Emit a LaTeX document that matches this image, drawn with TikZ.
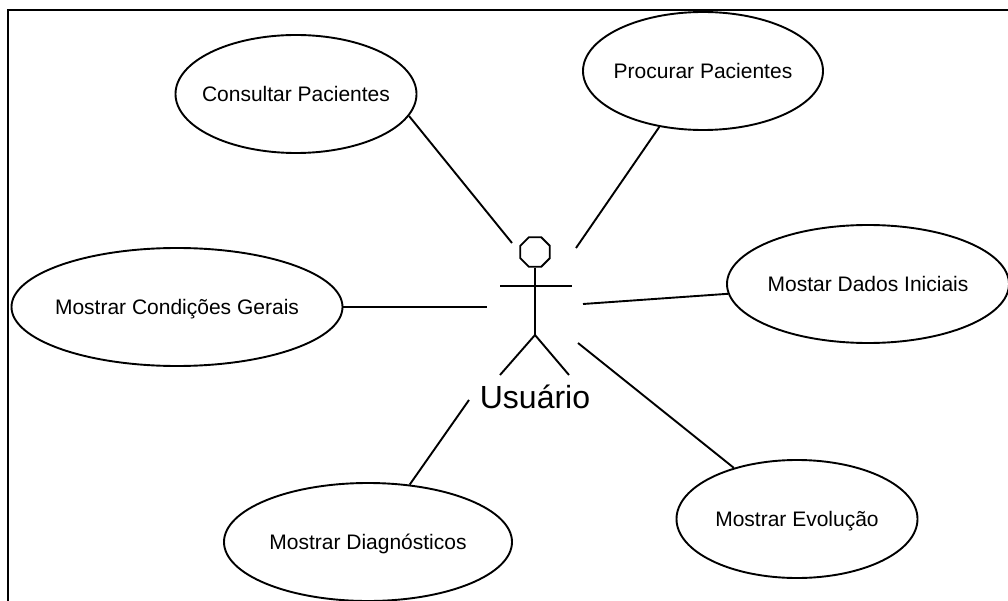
\documentclass[tikz,border=0pt]{standalone}
\usepackage{fontspec}
\setmainfont{Liberation Sans}
\usetikzlibrary{shapes.geometric}
\tikzset{
  usecase/.style={draw,ellipse,inner sep=0pt,minimum height=118pt},
  usetext/.style={font=\fontsize{21}{25}\selectfont,text depth=0pt},
}
\begin{document}
\begin{tikzpicture}[x=1pt,y=-1pt,line width=1.9pt]
        \useasboundingbox (0,0) rectangle (1008,601);
        \draw (8,601) -- (8,10) -- (1008,10);
        % actor
        \node[draw,regular polygon,regular polygon sides=8,minimum size=32pt,inner sep=0pt] (head) at (535,252) {};
        \coordinate (hip) at (535,335);
        \draw (head.south) -- (hip);
        \draw (500,286) -- (572,286);
        \draw (500,375) -- (hip) -- (569,375);
        \node[anchor=base,font=\fontsize{32}{38}\selectfont] (user) at (535,408) {Usuário};
        % use cases
        \node[usecase,minimum width=241pt,label={[usetext]center:Consultar Pacientes}] (cons) at (296,94) {};
        \node[usecase,minimum width=240pt,label={[usetext]center:Procurar Pacientes}] (proc) at (703,71) {};
        \node[usecase,minimum width=331pt,label={[usetext]center:Mostrar Condições Gerais}] (cond) at (177,307) {};
        \node[usecase,minimum width=282pt,label={[usetext]center:Mostar Dados Iniciais}] (dados) at (868,284) {};
        \node[usecase,minimum width=288pt,label={[usetext]center:Mostrar Diagnósticos}] (diag) at (368,542) {};
        \node[usecase,minimum width=241pt,label={[usetext]center:Mostrar Evolução}] (evol) at (797,519) {};
        % connectors
        \coordinate (a1) at (512,243);
        \coordinate (a2) at (576,248);
        \coordinate (a3) at (487,307);
        \coordinate (a4) at (583,304);
        \coordinate (a5) at (578,343);
        \coordinate (a6) at (469,400);
        \draw (cons.-11) -- (a1);
        \draw (proc.232) -- (a2);
        \draw (cond.east) -- (a3);
        \draw (dados.184) -- (a4);
        \draw (evol.141) -- (a5);
        \draw (diag.54) -- (a6);
    \end{tikzpicture}
\end{document}
